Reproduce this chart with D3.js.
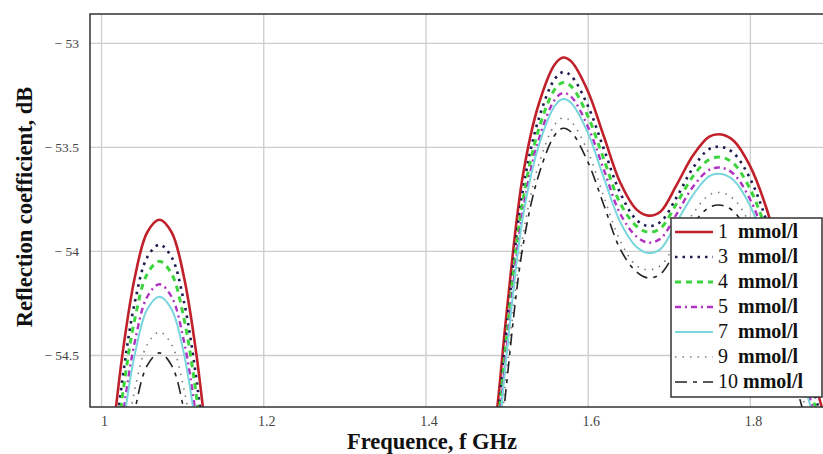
<!DOCTYPE html>
<html>
<head>
<meta charset="utf-8">
<script src="https://cdn.jsdelivr.net/npm/d3@7"></script>
<style>
  body { margin: 0; background: #fff; }
  svg { display: block; }
  .grid line { stroke: #cdcdcd; stroke-width: 1.3; }
  .tick text { font-family: "Liberation Serif", serif; fill: #444; }
</style>
</head>
<body>
<div id="chart"></div>
<script>
// frequency grid (GHz); null in the series marks the gap between the two lobes
var freq = [1.012, 1.027, 1.042, 1.057, 1.072, 1.087, 1.102, 1.117, 1.132,
  1.3,
  1.48, 1.49, 1.50, 1.52, 1.54, 1.56, 1.57, 1.58, 1.60, 1.62, 1.64, 1.66, 1.675,
  1.69, 1.71, 1.73, 1.75, 1.765, 1.78, 1.80, 1.82, 1.84, 1.86, 1.88, 1.90]

var s1 = [-54.98, -54.48, -54.12, -53.91, -53.85, -53.91, -54.12, -54.48, -54.98,
  null,
  -55.05, -54.70, -54.30, -53.64, -53.29, -53.10, -53.07, -53.09, -53.23, -53.45, -53.67, -53.80, -53.83,
  -53.81, -53.68, -53.54, -53.45, -53.44, -53.47, -53.59, -53.79, -54.07, -54.35, -54.63, -54.91]
var s3 = [-55.10, -54.60, -54.24, -54.03, -53.97, -54.03, -54.24, -54.60, -55.10,
  null,
  -55.12, -54.77, -54.37, -53.71, -53.36, -53.17, -53.14, -53.16, -53.30, -53.51, -53.72, -53.85, -53.88,
  -53.86, -53.74, -53.60, -53.51, -53.50, -53.53, -53.65, -53.85, -54.13, -54.41, -54.69, -54.97]
var s4 = [-55.18, -54.68, -54.32, -54.11, -54.05, -54.11, -54.32, -54.68, -55.18,
  null,
  -55.17, -54.82, -54.42, -53.76, -53.41, -53.22, -53.19, -53.21, -53.35, -53.56, -53.77, -53.88, -53.91,
  -53.89, -53.77, -53.64, -53.56, -53.55, -53.58, -53.70, -53.90, -54.18, -54.46, -54.74, -55.02]
var s5 = [-55.29, -54.79, -54.43, -54.22, -54.16, -54.22, -54.43, -54.79, -55.29,
  null,
  -55.22, -54.87, -54.47, -53.81, -53.46, -53.27, -53.24, -53.26, -53.40, -53.61, -53.82, -53.93, -53.96,
  -53.94, -53.82, -53.69, -53.61, -53.60, -53.63, -53.75, -53.95, -54.23, -54.51, -54.79, -55.07]
var s7 = [-55.35, -54.85, -54.49, -54.28, -54.22, -54.28, -54.49, -54.85, -55.35,
  null,
  -55.25, -54.90, -54.50, -53.84, -53.49, -53.30, -53.27, -53.29, -53.43, -53.65, -53.86, -53.98, -54.01,
  -53.99, -53.86, -53.73, -53.64, -53.63, -53.66, -53.78, -53.98, -54.26, -54.54, -54.82, -55.10]
var s9 = [-55.52, -55.02, -54.66, -54.45, -54.39, -54.45, -54.66, -55.02, -55.52,
  null,
  -55.34, -54.99, -54.59, -53.93, -53.58, -53.39, -53.36, -53.38, -53.52, -53.74, -53.95, -54.07, -54.09,
  -54.07, -53.95, -53.82, -53.73, -53.72, -53.75, -53.87, -54.07, -54.35, -54.63, -54.91, -55.19]
var s10 = [-55.62, -55.12, -54.76, -54.55, -54.49, -54.55, -54.76, -55.12, -55.62,
  null,
  -55.39, -55.04, -54.64, -53.98, -53.63, -53.44, -53.41, -53.43, -53.57, -53.78, -53.99, -54.10, -54.13,
  -54.11, -53.99, -53.87, -53.79, -53.78, -53.81, -53.93, -54.13, -54.41, -54.69, -54.97, -55.25]

var seriesNames = ["1", "3", "4", "5", "7", "9", "10"]
var xTicks = [1, 1.2, 1.4, 1.6, 1.8]
var yTicks = [-53, -53.5, -54, -54.5]

var seriesData = [s1, s3, s4, s5, s7, s9, s10]
var styles = [
  {color: "#c0202a", width: 2.6, dash: null},
  {color: "#1c1c50", width: 2.6, dash: "2.5,5"},
  {color: "#3dd43d", width: 3, dash: "6,5"},
  {color: "#b030c0", width: 2.4, dash: "6,4,2,4"},
  {color: "#78d6dc", width: 2, dash: null},
  {color: "#7a7a7a", width: 1.6, dash: "1.5,6"},
  {color: "#222", width: 1.6, dash: "12,6,4,6"}
]

var W = 823, H = 454
var plot = {left: 90, top: 14, bottom: 407, right: 831}

var xScale = d3.scaleLinear().domain([0.9864, 1.9]).range([plot.left, plot.right])
var yScale = d3.scaleLinear().domain([-54.75, -52.861]).range([plot.bottom, plot.top])

var svg = d3.select("#chart").append("svg")
  .attr("width", W).attr("height", H)

svg.append("defs").append("clipPath").attr("id", "clip")
  .append("rect")
  .attr("x", plot.left).attr("y", plot.top)
  .attr("width", plot.right - plot.left).attr("height", plot.bottom - plot.top)

// grid lines
svg.append("g").attr("class", "grid")
  .attr("transform", "translate(0," + plot.bottom + ")")
  .call(d3.axisBottom(xScale).tickValues(xTicks).tickSize(-(plot.bottom - plot.top)).tickFormat(""))
  .call(g => g.select(".domain").remove())
svg.append("g").attr("class", "grid")
  .attr("transform", "translate(" + plot.left + ",0)")
  .call(d3.axisLeft(yScale).tickValues(yTicks).tickSize(-(plot.right - plot.left)).tickFormat(""))
  .call(g => g.select(".domain").remove())

// tick labels
svg.append("g")
  .attr("transform", "translate(0," + (plot.bottom + 6) + ")")
  .call(d3.axisBottom(xScale).tickValues(xTicks).tickSize(0).tickFormat(d3.format("")))
  .call(g => g.select(".domain").remove())
  .selectAll("text").attr("font-size", 14).attr("dx", 3)

svg.append("g")
  .attr("transform", "translate(" + (plot.left - 8) + ",0)")
  .call(d3.axisLeft(yScale).tickValues(yTicks).tickSize(0)
    .tickFormat(d => "\u2212 " + Math.abs(d)))
  .call(g => g.select(".domain").remove())
  .selectAll("text").attr("font-size", 13.5)

// curves
var line = d3.line()
  .defined(d => d[1] != null)
  .x(d => xScale(d[0]))
  .y(d => yScale(d[1]))
  .curve(d3.curveCatmullRom)

var curves = svg.append("g").attr("clip-path", "url(#clip)")
seriesData.forEach(function(vals, i) {
  var pts = freq.map((f, j) => [f, vals[j]])
  curves.append("path")
    .datum(pts)
    .attr("fill", "none")
    .attr("stroke", styles[i].color)
    .attr("stroke-width", styles[i].width)
    .attr("stroke-dasharray", styles[i].dash)
    .attr("d", line)
})

// frame
svg.append("rect")
  .attr("x", plot.left).attr("y", plot.top)
  .attr("width", plot.right - plot.left).attr("height", plot.bottom - plot.top)
  .attr("fill", "none").attr("stroke", "#333").attr("stroke-width", 1.5)

// axis titles
svg.append("text")
  .attr("x", 432).attr("y", 449)
  .attr("text-anchor", "middle")
  .attr("font-family", "Liberation Serif, serif").attr("font-weight", "bold")
  .attr("font-size", 22.5).attr("fill", "#111")
  .text("Frequence, f GHz")

svg.append("text")
  .attr("transform", "translate(32,207) rotate(-90)")
  .attr("text-anchor", "middle")
  .attr("font-family", "Liberation Serif, serif").attr("font-weight", "bold")
  .attr("font-size", 22.5).attr("fill", "#111")
  .text("Reflection coefficient, dB")

// legend
var lg = svg.append("g")
lg.append("rect")
  .attr("x", 671).attr("y", 218).attr("width", 151).attr("height", 179)
  .attr("fill", "#fff").attr("stroke", "#333").attr("stroke-width", 1.5)

seriesNames.forEach(function(name, i) {
  var cy = 232 + i * 25
  lg.append("line")
    .attr("x1", 675).attr("x2", 713).attr("y1", cy).attr("y2", cy)
    .attr("stroke", styles[i].color)
    .attr("stroke-width", styles[i].width)
    .attr("stroke-dasharray", styles[i].dash)
  var t = lg.append("text")
    .attr("x", 718).attr("y", cy + 6)
    .attr("font-family", "Liberation Serif, serif").attr("font-size", 20)
    .attr("fill", "#111")
    .attr("xml:space", "preserve")
  t.append("tspan").text(name + (name.length == 1 ? "  " : " "))
  t.append("tspan").attr("font-weight", "bold").text("mmol/l")
})
</script>
</body>
</html>
